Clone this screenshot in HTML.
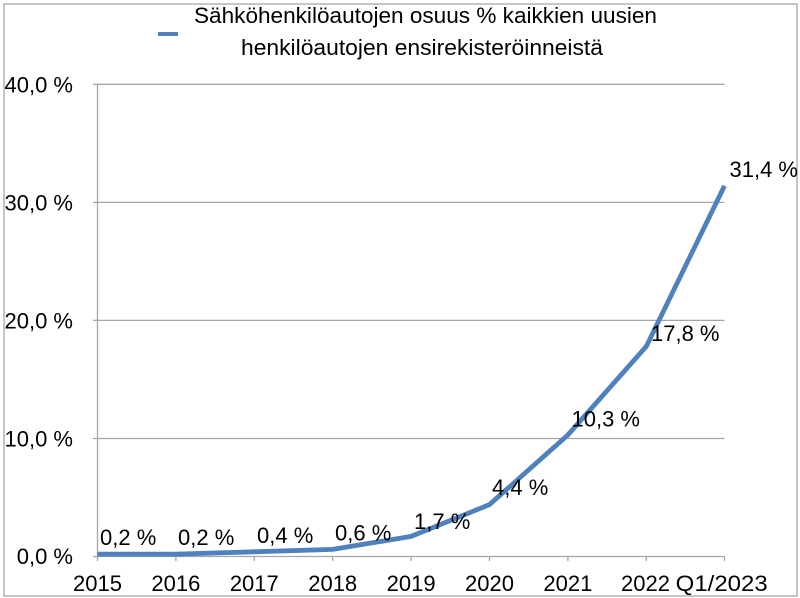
<!DOCTYPE html>
<html>
<head>
<meta charset="utf-8">
<style>
html,body{margin:0;padding:0;background:#fff;}
svg{display:block;}
text{font-family:"Liberation Sans",sans-serif;fill:#000;}
</style>
</head>
<body>
<svg width="800" height="598" viewBox="0 0 800 598" xmlns="http://www.w3.org/2000/svg">
  <rect x="0" y="0" width="800" height="598" fill="#fff"/>
  <rect x="4" y="4" width="793" height="592" fill="none" stroke="#b3b3b3" stroke-width="1.5"/>

  <!-- Legend / title -->
  <line x1="158" y1="34" x2="178" y2="34" stroke="#4f81bd" stroke-width="4"/>
  <text x="194" y="23" font-size="22" textLength="463" lengthAdjust="spacingAndGlyphs">Sähköhenkilöautojen osuus % kaikkien uusien</text>
  <text x="241" y="55" font-size="22" textLength="362" lengthAdjust="spacingAndGlyphs">henkilöautojen ensirekisteröinneistä</text>

  <!-- gridlines -->
  <g stroke="#a6a6a6" stroke-width="1.3">
    <line x1="93" y1="84.3" x2="724.5" y2="84.3"/>
    <line x1="93" y1="202.4" x2="724.5" y2="202.4"/>
    <line x1="93" y1="320.4" x2="724.5" y2="320.4"/>
    <line x1="93" y1="438.5" x2="724.5" y2="438.5"/>
    <line x1="93" y1="556.5" x2="724.5" y2="556.5"/>
    <!-- y axis -->
    <line x1="97.5" y1="84.3" x2="97.5" y2="556.5"/>
    <!-- x ticks -->
    <line x1="97.5" y1="556.5" x2="97.5" y2="561"/>
    <line x1="175.9" y1="556.5" x2="175.9" y2="561"/>
    <line x1="254.3" y1="556.5" x2="254.3" y2="561"/>
    <line x1="332.7" y1="556.5" x2="332.7" y2="561"/>
    <line x1="411.1" y1="556.5" x2="411.1" y2="561"/>
    <line x1="489.5" y1="556.5" x2="489.5" y2="561"/>
    <line x1="567.9" y1="556.5" x2="567.9" y2="561"/>
    <line x1="646.3" y1="556.5" x2="646.3" y2="561"/>
    <line x1="724.5" y1="556.5" x2="724.5" y2="561"/>
  </g>

  <!-- y labels -->
  <g font-size="22" text-anchor="end">
    <text x="73" y="92.3">40,0 %</text>
    <text x="73" y="210.4">30,0 %</text>
    <text x="73" y="328.4">20,0 %</text>
    <text x="73" y="446.5">10,0 %</text>
    <text x="73" y="564">0,0 %</text>
  </g>

  <!-- x labels -->
  <g font-size="22" text-anchor="middle">
    <text x="97.5" y="591">2015</text>
    <text x="175.9" y="591">2016</text>
    <text x="254.3" y="591">2017</text>
    <text x="332.7" y="591">2018</text>
    <text x="411.1" y="591">2019</text>
    <text x="489.5" y="591">2020</text>
    <text x="567.9" y="591">2021</text>
    <text x="645.5" y="591">2022</text>
    <text x="721.7" y="591" textLength="92" lengthAdjust="spacingAndGlyphs">Q1/2023</text>
  </g>

  <!-- series -->
  <polyline fill="none" stroke="#4f81bd" stroke-width="4.8" stroke-linejoin="round" stroke-linecap="butt"
    points="97.5,554.1 175.9,554.1 254.3,551.8 332.7,549.4 411.1,536.4 489.5,504.6 567.9,434.9 646.3,346.4 724.5,185.8"/>

  <!-- data labels -->
  <g font-size="22">
    <text x="100" y="545">0,2 %</text>
    <text x="178" y="545">0,2 %</text>
    <text x="257" y="543">0,4 %</text>
    <text x="335" y="540.5">0,6 %</text>
    <text x="414" y="529">1,7 %</text>
    <text x="492" y="495">4,4 %</text>
    <text x="571.5" y="426.5">10,3 %</text>
    <text x="651" y="341">17,8 %</text>
    <text x="729.5" y="177">31,4 %</text>
  </g>
</svg>
</body>
</html>
